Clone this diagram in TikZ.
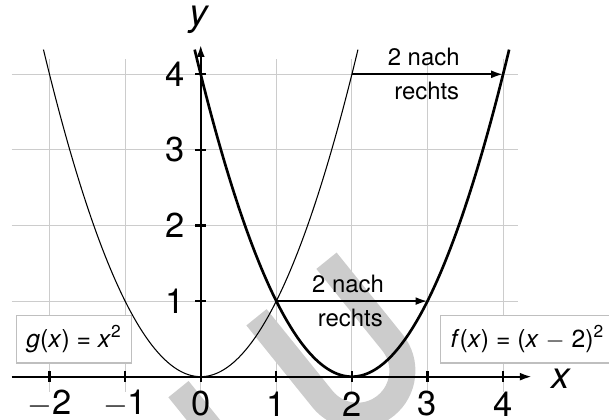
\documentclass[tikz,border=0pt]{standalone}
\usepackage{fontspec}
\setmainfont{TeX Gyre Heros}
\usetikzlibrary{arrows.meta}
\definecolor{gridgray}{gray}{0.8}
\definecolor{boxgray}{gray}{0.75}
\definecolor{wmgray}{gray}{0.8}
\begin{document}
\begin{tikzpicture}[x=1cm,y=1cm,
  gridline/.style={gridgray, line width=0.4pt},
  axis/.style={line width=0.8pt, -{Latex[length=4.5pt,width=3pt]}},
  tickmark/.style={line width=0.8pt},
  ticklab/.style={font=\fontsize{13}{15}\selectfont, inner sep=0pt},
  axlab/.style={font=\fontsize{14}{16}\selectfont\itshape, inner sep=0pt},
  shiftlab/.style={font=\fontsize{9}{11}\selectfont, inner sep=0pt},
  shiftarrow/.style={line width=0.8pt, -{Latex[length=4.5pt,width=3pt]}},
  fnbox/.style={draw=boxgray, line width=0.5pt, fill=white, font=\fontsize{9.3}{11}\selectfont, inner sep=0pt, minimum height=0.626cm},
  thinparab/.style={line width=0.4pt},
  thickparab/.style={line width=1pt},
  watermark/.style={wmgray, line width=0.344cm}
]
\useasboundingbox (-2.655,-0.56) rectangle (5.401,4.983);
% watermark
\begin{scope}
\clip (-2.655,-0.56) rectangle (5.401,4.983);
\draw[watermark] (-0.294,-0.165) -- ++(0.942,-1.167);
\draw[watermark] (0.738,0.786) -- (1.610,-0.295) arc[start angle=218.9, end angle=398.9, radius=0.595] -- (1.664,1.534);
\end{scope}
% grid
\foreach \x in {-2,...,4} \draw[gridline] (\x,-0.2) -- (\x,4.2);
\foreach \y in {1,...,4} \draw[gridline] (-2.5,\y) -- (4.2,\y);
% function boxes
\node[fnbox, minimum width=1.522cm] (gbox) at (-1.673,0.494)
  {\textit{g}(\textit{x}) = \textit{x}\textsuperscript{2}};
\node[fnbox, minimum width=2.3cm, anchor=west] (fbox) at (3.165,0.494)
  {\textit{f}(\textit{x}) = (\textit{x} {$-$} 2)\textsuperscript{2}};
% axes
\coordinate (xs) at (-2.5,0);
\coordinate (xe) at (4.38,0);
\coordinate (ys) at (0,0);
\coordinate (ye) at (0,4.39);
\draw[axis] (xs) -- (xe);
\draw[axis] (ys) -- (ye);
\foreach \x in {-2,...,4} \draw[tickmark] (\x,-0.07) -- (\x,0.07);
\foreach \y in {1,...,4} \draw[tickmark] (-0.07,\y) -- (0.07,\y);
\node[ticklab] (xl-2) at (-2,-0.36) {$-$2};
\node[ticklab] (xl-1) at (-1,-0.36) {$-$1};
\node[ticklab] (xl0) at (0,-0.36) {0};
\node[ticklab] (xl1) at (1,-0.36) {1};
\node[ticklab] (xl2) at (2,-0.36) {2};
\node[ticklab] (xl3) at (3,-0.36) {3};
\node[ticklab] (xl4) at (4,-0.36) {4};
\foreach \y in {1,...,4} \node[ticklab, anchor=east] (yl\y) at (-0.2,\y) {\y};
\node[axlab] (xlab) at (4.76,-0.025) {x};
\node[axlab] (ylab) at (-0.02,4.72) {y};
% parabolas
\draw[thinparab] plot[domain=-2.08:2.08, samples=120] (\x, {\x*\x});
\draw[thickparab] plot[domain=-0.08:4.08, samples=120] (\x, {(\x-2)*(\x-2)});
% shift arrows
\coordinate (a1s) at (1,1);
\coordinate (a1e) at (3,1);
\coordinate (a2s) at (2,4);
\coordinate (a2e) at (4,4);
\draw[shiftarrow] (a1s) -- (a1e);
\draw[shiftarrow] (a2s) -- (a2e);
\node[shiftlab] (t1a) at (1.95,1.233) {2 nach};
\node[shiftlab] (t1b) at (1.98,0.783) {rechts};
\node[shiftlab] (t2a) at (2.95,4.23) {2 nach};
\node[shiftlab] (t2b) at (2.99,3.78) {rechts};
\end{tikzpicture}
\end{document}
